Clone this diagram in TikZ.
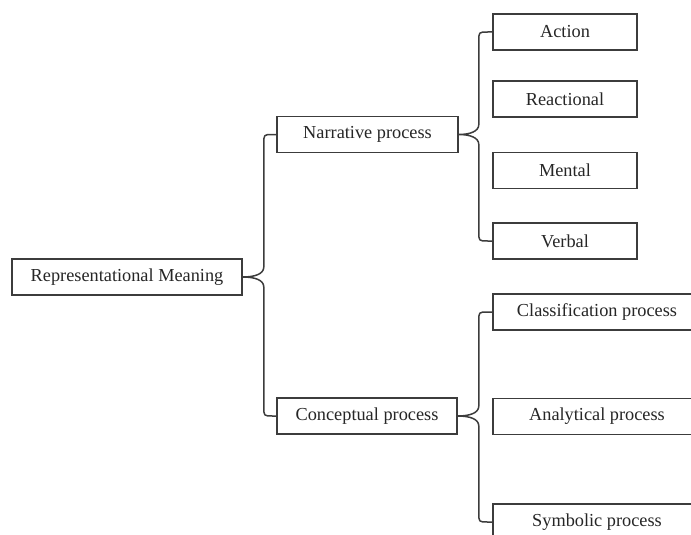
\documentclass[tikz,border=0pt]{standalone}
\usepackage{fontspec}
\setmainfont{Liberation Serif}
\usetikzlibrary{calc}
\definecolor{ink}{HTML}{3C3C3C}
\tikzset{
  box/.style={draw=ink, line width=1.6pt, fill=white, inner sep=0pt, minimum height=36pt,
              font=\fontsize{18.3}{20}\selectfont, text=black!85},
  link/.style={draw=ink, line width=1.5pt, line join=round, line cap=round}
}
% brace from parent east to top child west and bottom child west
\newcommand{\mybrace}[4]{%
  \draw[link] let \p1=(#1.east), \p2=(#2.west), \p3=(#3.west), \n1={\x1+#4} in
    (\p2) -- (\n1+9pt,\y2) .. controls (\n1,\y2) .. (\n1,\y2-9pt)
    -- (\n1,\y1+10pt) .. controls (\n1,\y1+3pt) and (\n1-9pt,\y1) .. (\p1)
    .. controls (\n1-9pt,\y1) and (\n1,\y1-3pt) .. (\n1,\y1-10pt)
    -- (\n1,\y3+9pt) .. controls (\n1,\y3) .. (\n1+9pt,\y3) -- (\p3);
}
\begin{document}
\begin{tikzpicture}[x=1pt,y=-1pt]
\useasboundingbox (0,0) rectangle (691,535);
\clip (0,0) rectangle (691,535);
\node[box, minimum width=230pt] (root) at (127,277) {Representational Meaning};
\node[box, minimum width=181pt] (nar) at (367.5,134.5) {Narrative process};
\node[box, minimum width=180pt] (con) at (367,416) {Conceptual process};
\node[box, minimum width=144pt] (act) at (565,32) {Action};
\node[box, minimum width=144pt] (rea) at (565,99) {Reactional};
\node[box, minimum width=144pt] (men) at (565,170.5) {Mental};
\node[box, minimum width=144pt] (ver) at (565,241) {Verbal};
\node[box, minimum width=208pt] (cla) at (597,312) {Classification process};
\node[box, minimum width=208pt] (ana) at (597,416.5) {Analytical process};
\node[box, minimum width=208pt] (sym) at (597,522) {Symbolic process};
\mybrace{root}{nar}{con}{21pt}
\mybrace{nar}{act}{ver}{20pt}
\mybrace{con}{cla}{sym}{21pt}
\end{tikzpicture}
\end{document}
